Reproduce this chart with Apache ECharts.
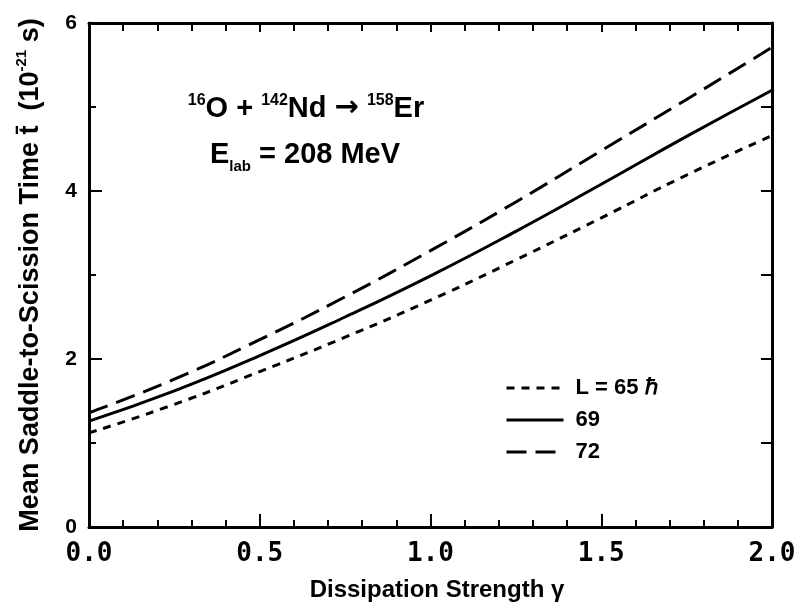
<!DOCTYPE html>
<html>
<head>
<meta charset="utf-8">
<script src="https://cdn.jsdelivr.net/npm/echarts@6/dist/echarts.min.js"></script>
<style>
  html, body { margin: 0; padding: 0; background: #fff; }
  #chart { width: 800px; height: 611px; }
</style>
</head>
<body>
<div id="chart"></div>
<script>
// dissipation strength gamma (x) and mean saddle-to-scission time (1e-21 s)
const gammaVals = [0, 0.25, 0.5, 0.75, 1.0, 1.25, 1.5, 1.75, 2.0];
const timeL65 = [1.12, 1.46, 1.85, 2.26, 2.70, 3.18, 3.68, 4.19, 4.66];
const timeL69 = [1.26, 1.62, 2.04, 2.50, 2.99, 3.52, 4.08, 4.65, 5.20];
const timeL72 = [1.36, 1.76, 2.23, 2.74, 3.29, 3.87, 4.48, 5.09, 5.71];
const seriesNames = ['L = 65 \u210F', '69', '72'];

const chart = echarts.init(document.getElementById('chart'));

const pairs = (ys) => gammaVals.map((x, i) => [x, ys[i]]);
const ink = '#000';

function curve(name, ys, dash) {
  return {
    name, type: 'line', data: pairs(ys),
    smooth: true, symbol: 'none',
    lineStyle: { color: ink, width: 3, type: dash },
    itemStyle: { color: ink }
  };
}

const axisBase = {
  type: 'value',
  axisLine: { show: true, onZero: false, lineStyle: { color: ink, width: 3 } },
  splitLine: { show: false }
};

chart.setOption({
  animation: false,
  grid: { left: 89, right: 28, top: 23, bottom: 84 },
  xAxis: [
    {
      ...axisBase, position: 'bottom', min: 0, max: 2, interval: 0.5,
      axisTick: { inside: true, length: 13, lineStyle: { color: ink, width: 2 } },
      minorTick: { show: true, splitNumber: 5, length: 7, lineStyle: { color: ink, width: 2 } },
      axisLabel: {
        margin: 14, color: ink, fontFamily: 'DejaVu Sans Mono', fontWeight: 'bold', fontSize: 26,
        formatter: (v) => v.toFixed(1)
      }
    },
    {
      ...axisBase, position: 'top', min: 0, max: 2, interval: 0.5,
      axisTick: { inside: true, length: 9, lineStyle: { color: ink, width: 2 } },
      minorTick: { show: true, splitNumber: 5, length: 8, lineStyle: { color: ink, width: 2 } },
      axisLabel: { show: false }
    }
  ],
  yAxis: [
    {
      ...axisBase, position: 'left', min: 0, max: 6, interval: 2,
      axisTick: { inside: true, length: 13, lineStyle: { color: ink, width: 2 } },
      minorTick: { show: true, splitNumber: 2, length: 7, lineStyle: { color: ink, width: 2 } },
      axisLabel: {
        margin: 12, color: ink, fontFamily: 'Liberation Sans', fontWeight: 'bold', fontSize: 21
      }
    },
    {
      ...axisBase, position: 'right', min: 0, max: 6, interval: 1,
      axisTick: { inside: true, length: 11, lineStyle: { color: ink, width: 2 } },
      axisLabel: { show: false }
    }
  ],
  legend: {
    orient: 'vertical', left: 500, top: 372,
    itemWidth: 57, itemHeight: 20, itemGap: 10,
    data: seriesNames,
    itemStyle: { opacity: 0 },
    lineStyle: { width: 3 },
    textStyle: {
      color: ink, fontFamily: 'Liberation Sans', fontWeight: 'bold', fontSize: 22,
      lineHeight: 20, padding: [0, 0, 0, 7]
    }
  },
  graphic: [
    {
      type: 'text', x: 306, y: 108,
      style: {
        text: '{s|16}{n|O + }{s|142}{n|Nd }{a|\u2192}{n| }{s|158}{n|Er}',
        align: 'center', verticalAlign: 'middle',
        rich: {
          n: { fontFamily: 'Liberation Sans', fontSize: 29, fontWeight: 'bold', fill: ink, verticalAlign: 'bottom', lineHeight: 30 },
          a: { fontFamily: 'DejaVu Sans', fontSize: 29, fontWeight: 'bold', fill: ink, verticalAlign: 'bottom', lineHeight: 30 },
          s: { fontFamily: 'Liberation Sans', fontSize: 16, fontWeight: 'bold', fill: ink, verticalAlign: 'top', lineHeight: 30 }
        }
      }
    },
    {
      type: 'text', x: 305, y: 157,
      style: {
        text: '{n|E}{b|lab}{n| = 208 MeV}',
        align: 'center', verticalAlign: 'middle',
        rich: {
          n: { fontFamily: 'Liberation Sans', fontSize: 29, fontWeight: 'bold', fill: ink, verticalAlign: 'top', lineHeight: 34 },
          b: { fontFamily: 'Liberation Sans', fontSize: 15, fontWeight: 'bold', fill: ink, verticalAlign: 'bottom', lineHeight: 34 }
        }
      }
    },
    {
      type: 'text', x: 437, y: 590,
      style: {
        text: 'Dissipation Strength \u03B3',
        align: 'center', verticalAlign: 'middle',
        font: 'bold 24px "Liberation Sans"', fill: ink
      }
    },
    {
      type: 'text', x: 29, y: 275, rotation: Math.PI / 2,
      style: {
        text: '{n|Mean Saddle-to-Scission Time t\u0304  (10}{s|-21}{n| s)}',
        align: 'center', verticalAlign: 'middle',
        rich: {
          n: { fontFamily: 'Liberation Sans', fontSize: 27, fontWeight: 'bold', fill: ink, verticalAlign: 'bottom', lineHeight: 30 },
          s: { fontFamily: 'Liberation Sans', fontSize: 15, fontWeight: 'bold', fill: ink, verticalAlign: 'top', lineHeight: 30 }
        }
      }
    }
  ],
  series: [
    curve(seriesNames[0], timeL65, [8, 7]),
    curve(seriesNames[1], timeL69, 'solid'),
    curve(seriesNames[2], timeL72, [20, 9])
  ]
});
</script>
</body>
</html>
